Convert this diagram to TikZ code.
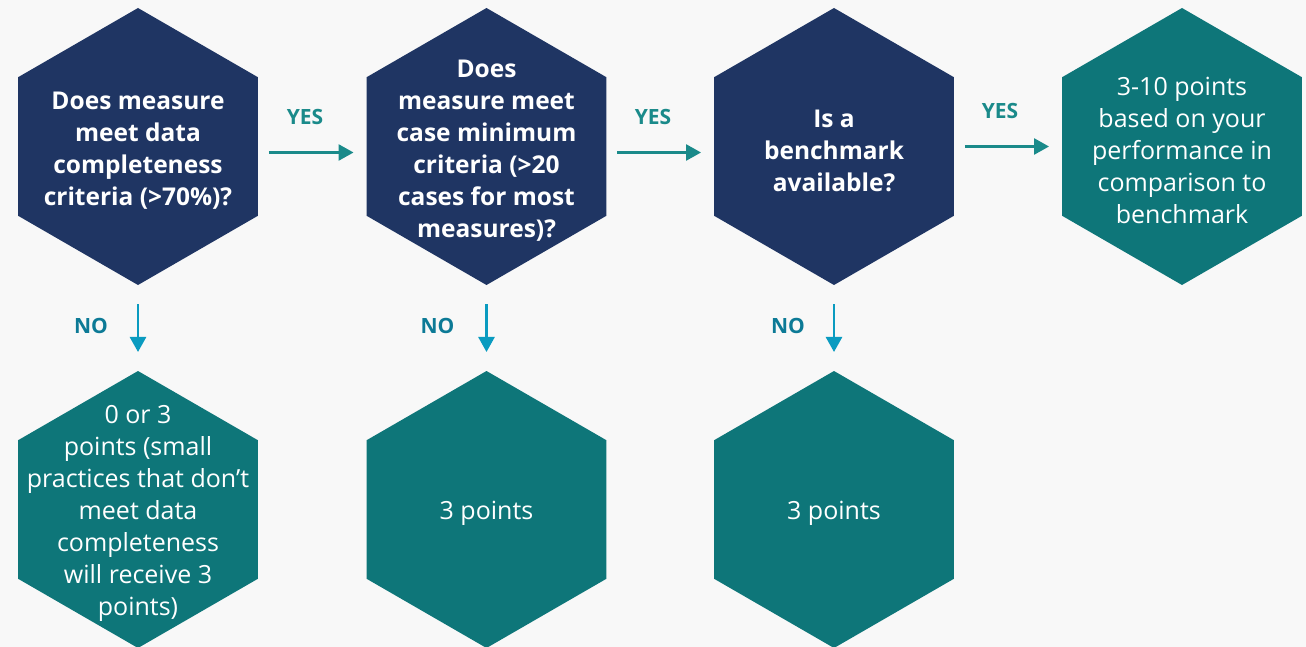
\documentclass[tikz,border=0pt]{standalone}
\usepackage{fontspec}
\setmainfont{Open Sans}
\usepackage{xcolor}
\usepackage{tikz}
\usetikzlibrary{positioning, shapes.geometric, arrows.meta}

\definecolor{NavyHex}{RGB}{31, 53, 99}
\definecolor{TealHex}{RGB}{14, 118, 121}
\definecolor{YesTeal}{RGB}{26, 138, 138}
\definecolor{NoBlue}{RGB}{10, 155, 192}
\definecolor{NoText}{RGB}{12, 122, 150}
\definecolor{PageGray}{RGB}{248, 248, 248}

\tikzset{
	hexagon/.style={regular polygon, regular polygon sides=6, regular polygon rotate=30, minimum size=277pt, inner sep=0pt, outer sep=0pt, draw=none},
	question/.style={hexagon, fill=NavyHex},
	outcome/.style={hexagon, fill=TealHex},
	qtext/.style={text=white, font=\bfseries\fontsize{24.5}{32}\selectfont, align=center, yshift=-4pt},
	otext/.style={text=white, font=\fontsize{25}{32}\selectfont, align=center, yshift=-4pt},
	yesarrow/.style={-{Triangle[width=16pt,length=15pt]}, YesTeal, line width=2.6pt, shorten <=11pt, shorten >=13pt},
	noarrow/.style={-{Triangle[width=16pt,length=15pt]}, NoBlue, line width=2.6pt, shorten <=19pt, shorten >=19pt},
	yeslabel/.style={text=YesTeal, font=\bfseries\fontsize{21}{24}\selectfont},
	nolabel/.style={text=NoText, font=\bfseries\fontsize{21}{24}\selectfont},
}

\begin{document}
\begin{tikzpicture}
	\useasboundingbox (0pt,0pt) rectangle (1306pt,-647pt);
	\fill[PageGray] (0pt,0pt) rectangle (1306pt,-647pt);

	% top row
	\node[question] (q1) at (138pt,-146.5pt) {};
	\node[question] (q2) at (486.5pt,-146.5pt) {};
	\node[question] (q3) at (834pt,-146.5pt) {};
	\node[outcome] (o4) at (1182pt,-146.5pt) {};

	% bottom row
	\node[outcome] (o1) at (138pt,-509.5pt) {};
	\node[outcome] (o2) at (486.5pt,-509.5pt) {};
	\node[outcome] (o3) at (834pt,-509.5pt) {};

	\node[qtext] (q1t) at (q1) {Does measure\\ meet data\\ completeness\\ criteria (>70\%)?};
	\node[qtext] (q2t) at (q2) {Does\\ measure meet\\ case minimum\\ criteria (>20\\ cases for most\\ measures)?};
	\node[qtext] (q3t) at (q3) {Is a\\ benchmark\\ available?};
	\node[otext] (o4t) at (o4) {3-10 points\\ based on your\\ performance in\\ comparison to\\ benchmark};
	\node[otext] (o1t) at (o1) {0 or 3\\ points (small\\ practices that don’t\\ meet data\\ completeness\\ will receive 3\\ points)};
	\node[otext] (o2t) at (o2) {3 points};
	\node[otext] (o3t) at (o3) {3 points};

	% yes / no
	\draw[yesarrow] ([yshift=-6pt]q1.east) -- ([yshift=-6pt]q2.west);
	\draw[yesarrow] ([yshift=-6pt]q2.west -| q2.east) -- ([yshift=-6pt]q3.west);
	\draw[yesarrow] (q3.east) -- (o4.west);
	\node[yeslabel] (yes1) at (305pt,-117pt) {YES};
	\node[yeslabel] (yes2) at (653pt,-117pt) {YES};
	\node[yeslabel] (yes3) at (1000pt,-111pt) {YES};

	\draw[noarrow] (q1.south) -- (o1.north);
	\draw[noarrow] (q2.south) -- (o2.north);
	\draw[noarrow] (q3.south) -- (o3.north);
	\node[nolabel] (no1) at (91pt,-326pt) {NO};
	\node[nolabel] (no2) at (437.5pt,-326pt) {NO};
	\node[nolabel] (no3) at (788pt,-326pt) {NO};
\end{tikzpicture}
\end{document}
